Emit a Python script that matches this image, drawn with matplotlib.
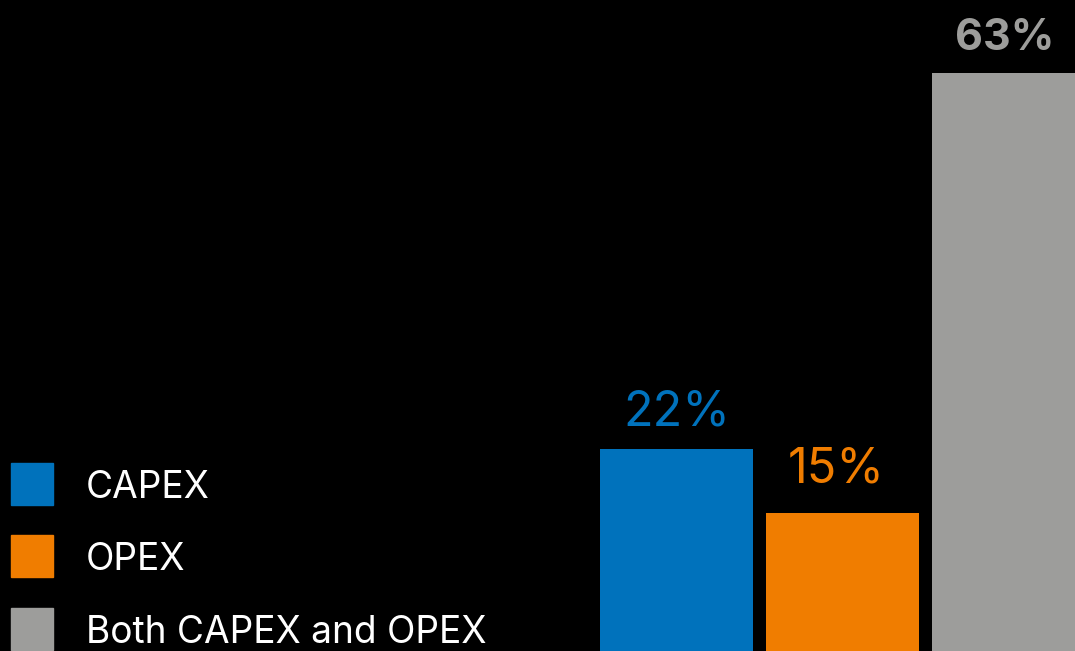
import matplotlib.pyplot as plt
from matplotlib.patches import Rectangle

categories = ['CAPEX', 'OPEX', 'Both CAPEX and OPEX']
shares = [22, 15, 63]
colors = ['#0072BC', '#F07D00', '#9D9D9B']
label_weights = ['normal', 'normal', 'bold']
label_sizes = [35, 35, 31]
label_pads = [(0, 24), (-6, 31), (-4, 23)]

plt.rcParams['font.family'] = ['Inter', 'DejaVu Sans']

fig = plt.figure(figsize=(10.75, 6.51), dpi=100, facecolor='black')
ax = fig.add_axes([0, 0, 1, 1])
ax.set_facecolor('black')

x = list(range(len(shares)))
bars = ax.bar(x, shares, width=0.92, color=colors)
ax.set_xlim(-4.075, 2.40)
ax.set_ylim(0, 71.0)
ax.axis('off')

for bar, val, col, w, fs, pad in zip(bars, shares, colors, label_weights, label_sizes, label_pads):
    ax.annotate(f'{val}%', (bar.get_x() + bar.get_width() / 2, val),
                xytext=pad, textcoords='offset pixels',
                ha='center', va='baseline', color=col,
                fontsize=fs, fontweight=w)

# legend drawn by hand at the lower left
W, H = fig.get_size_inches() * fig.dpi
square_tops = [463, 535, 608]
for name, col, top in zip(categories, colors, square_tops):
    fig.patches.append(Rectangle((11 / W, 1 - (top + 42) / H), 42 / W, 42 / H,
                                 transform=fig.transFigure, color=col))
    fig.text(86 / W, 1 - (top + 21) / H, name, color='white', fontsize=26.7,
             va='center_baseline', ha='left')

fig.savefig('out.png', dpi=100, facecolor='black')
